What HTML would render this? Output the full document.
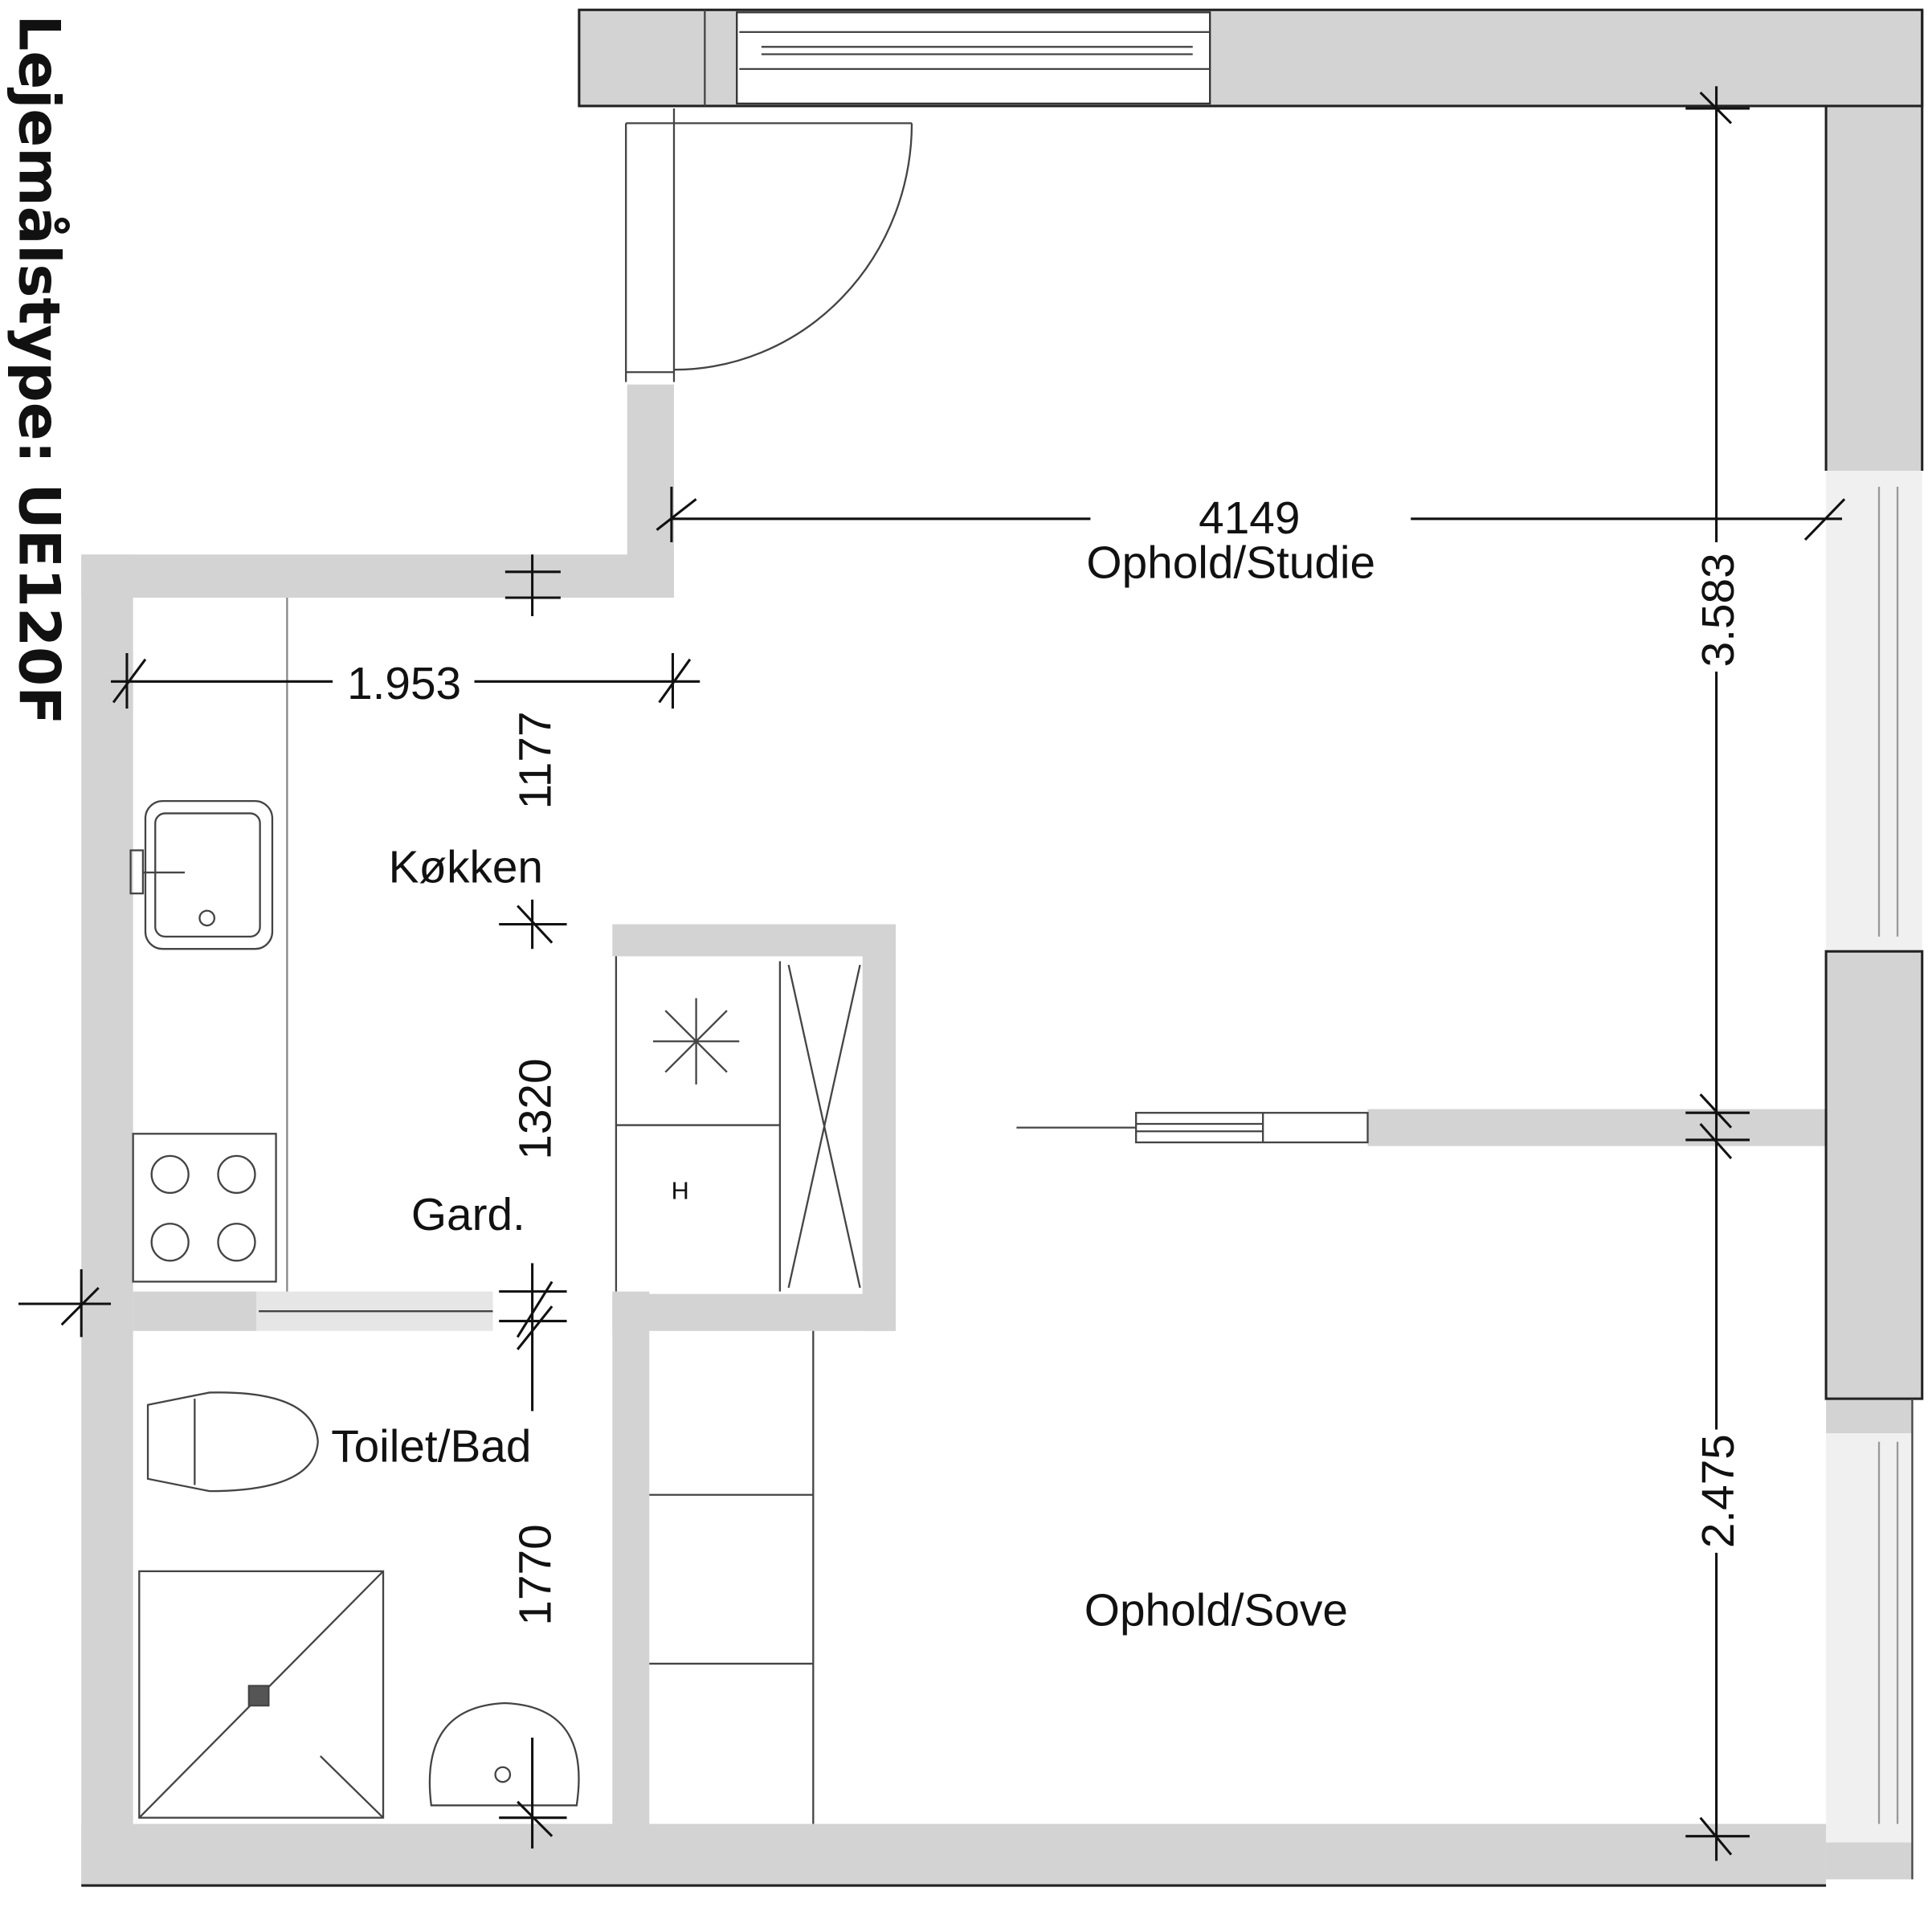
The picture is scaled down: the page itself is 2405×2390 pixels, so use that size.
<!DOCTYPE html>
<html><head><meta charset="utf-8"><style>
html,body{margin:0;padding:0;background:#fff;}
svg{display:block;}
text{font-family:"Liberation Sans",sans-serif;fill:#111;}
</style></head><body>
<svg width="2405" height="2390" viewBox="0 0 1568 1558" preserveAspectRatio="none" xmlns="http://www.w3.org/2000/svg">
<g fill="#d3d3d3" stroke="none">
<rect x="470" y="8" width="1090" height="78"/>
<rect x="1482" y="8" width="78" height="374"/>
<rect x="1482" y="772" width="78" height="363"/>
<rect x="1482" y="1135" width="70" height="28"/>
<rect x="1482" y="1495" width="70" height="30"/>
<rect x="509" y="312" width="38" height="173"/>
<rect x="66" y="450" width="481" height="35"/>
<rect x="66" y="450" width="42" height="1080"/>
<rect x="66" y="1480" width="1416" height="50"/>
<rect x="108" y="1048" width="100" height="32"/>
<rect x="208" y="1048" width="192" height="32" fill="#e6e6e6"/>
<rect x="497" y="1048" width="30" height="440"/>
<rect x="497" y="750" width="230" height="26"/>
<rect x="700" y="750" width="27" height="330"/>
<rect x="497" y="1050" width="230" height="30"/>
<rect x="1110" y="900" width="372" height="30"/>
<rect x="1482" y="382" width="78" height="390" fill="#f0f0f0"/>
<rect x="1482" y="1163" width="70" height="332" fill="#f0f0f0"/>
</g>
<g fill="none" stroke="#222" stroke-width="2">
<rect x="470" y="8" width="1090" height="78"/>
<line x1="1482" y1="86" x2="1482" y2="382"/>
<line x1="1560" y1="8" x2="1560" y2="382"/>
<rect x="1482" y="772" width="78" height="363"/>
<line x1="66" y1="1530" x2="1482" y2="1530"/>
</g>
<g fill="#fff" stroke="#333" stroke-width="1.5">
<rect x="598" y="10" width="384" height="74"/>
</g>
<g fill="none" stroke="#444" stroke-width="1.5">
<line x1="572" y1="8" x2="572" y2="86"/>
<line x1="600" y1="26" x2="982" y2="26"/>
<line x1="618" y1="38" x2="968" y2="38"/>
<line x1="618" y1="44" x2="968" y2="44"/>
<line x1="600" y1="56" x2="982" y2="56"/>
<line x1="508" y1="100" x2="740" y2="100"/>
<line x1="508" y1="100" x2="508" y2="310"/>
<line x1="547" y1="88" x2="547" y2="310"/>
<line x1="508" y1="302" x2="547" y2="302"/>
<path d="M740 100 A193 200 0 0 1 547 300"/>
<line x1="1525" y1="395" x2="1525" y2="760" stroke="#999"/>
<line x1="1540" y1="395" x2="1540" y2="760" stroke="#999"/>
<line x1="1525" y1="1170" x2="1525" y2="1480" stroke="#999"/>
<line x1="1540" y1="1170" x2="1540" y2="1480" stroke="#999"/>
<line x1="1552" y1="1135" x2="1552" y2="1525"/>
<line x1="233" y1="485" x2="233" y2="1048" stroke="#888"/>
<rect x="118" y="650" width="103" height="120" rx="14"/>
<rect x="126" y="660" width="85" height="100" rx="8"/>
<circle cx="168" cy="745" r="6"/>
<rect x="106" y="690" width="10" height="35"/>
<line x1="116" y1="708" x2="150" y2="708"/>
<rect x="108" y="920" width="116" height="120"/>
<circle cx="138" cy="953" r="15"/><circle cx="192" cy="953" r="15"/>
<circle cx="138" cy="1008" r="15"/><circle cx="192" cy="1008" r="15"/>
<line x1="500" y1="776" x2="500" y2="1048"/>
<line x1="633" y1="780" x2="633" y2="1048"/>
<line x1="500" y1="913" x2="633" y2="913"/>
<line x1="640" y1="783" x2="698" y2="1045"/>
<line x1="698" y1="783" x2="640" y2="1045"/>
<line x1="530" y1="845" x2="600" y2="845"/>
<line x1="565" y1="810" x2="565" y2="880"/>
<line x1="540" y1="820" x2="590" y2="870"/>
<line x1="590" y1="820" x2="540" y2="870"/>
<line x1="210" y1="1064" x2="400" y2="1064"/>
<path d="M120 1140 L170 1130 Q255 1128 258 1170 Q255 1210 170 1210 L120 1200 Z"/>
<line x1="158" y1="1135" x2="158" y2="1205"/>
<rect x="113" y="1275" width="198" height="200"/>
<line x1="113" y1="1475" x2="311" y2="1275"/>
<line x1="260" y1="1425" x2="311" y2="1475"/>
<rect x="202" y="1368" width="16" height="16" fill="#555"/>
<path d="M350 1465 Q340 1385 410 1382 Q480 1385 468 1465 Z"/>
<circle cx="408" cy="1440" r="6"/>
<line x1="660" y1="1080" x2="660" y2="1480"/>
<line x1="527" y1="1213" x2="660" y2="1213"/>
<line x1="527" y1="1350" x2="660" y2="1350"/>
<line x1="825" y1="915" x2="922" y2="915"/>
<rect x="922" y="903" width="188" height="24"/>
<line x1="922" y1="912" x2="1025" y2="912"/>
<line x1="922" y1="918" x2="1025" y2="918"/>
<line x1="1025" y1="903" x2="1025" y2="927"/>
</g>
<g fill="none" stroke="#111" stroke-width="2">
<line x1="545" y1="421" x2="885" y2="421"/>
<line x1="1145" y1="421" x2="1495" y2="421"/>
<line x1="545" y1="395" x2="545" y2="440"/>
<line x1="533" y1="430" x2="565" y2="405"/>
<line x1="1465" y1="438" x2="1497" y2="405"/>
<line x1="1393" y1="70" x2="1393" y2="440"/>
<line x1="1393" y1="545" x2="1393" y2="1160"/>
<line x1="1393" y1="1260" x2="1393" y2="1510"/>
<line x1="1368" y1="88" x2="1420" y2="88"/><line x1="1380" y1="75" x2="1405" y2="100"/>
<line x1="1368" y1="903" x2="1420" y2="903"/><line x1="1380" y1="888" x2="1405" y2="915"/>
<line x1="1368" y1="925" x2="1420" y2="925"/><line x1="1380" y1="912" x2="1405" y2="940"/>
<line x1="1368" y1="1490" x2="1420" y2="1490"/><line x1="1380" y1="1475" x2="1405" y2="1505"/>
<line x1="90" y1="553" x2="270" y2="553"/>
<line x1="385" y1="553" x2="568" y2="553"/>
<line x1="103" y1="530" x2="103" y2="575"/><line x1="92" y1="570" x2="118" y2="535"/>
<line x1="546" y1="530" x2="546" y2="575"/><line x1="535" y1="570" x2="560" y2="535"/>
<line x1="432" y1="450" x2="432" y2="500"/>
<line x1="410" y1="464" x2="455" y2="464"/><line x1="410" y1="485" x2="455" y2="485"/>
<line x1="432" y1="730" x2="432" y2="770"/><line x1="405" y1="750" x2="460" y2="750"/><line x1="420" y1="735" x2="448" y2="765"/>
<line x1="432" y1="1025" x2="432" y2="1145"/>
<line x1="405" y1="1048" x2="460" y2="1048"/><line x1="405" y1="1072" x2="460" y2="1072"/>
<line x1="420" y1="1085" x2="448" y2="1040"/><line x1="420" y1="1095" x2="448" y2="1060"/>
<line x1="432" y1="1410" x2="432" y2="1500"/><line x1="405" y1="1475" x2="460" y2="1475"/><line x1="420" y1="1462" x2="448" y2="1490"/>
<line x1="15" y1="1058" x2="90" y2="1058"/><line x1="66" y1="1030" x2="66" y2="1085"/><line x1="50" y1="1075" x2="80" y2="1045"/>
</g>
<g font-size="37">
<text x="1014" y="433" text-anchor="middle">4149</text>
<text x="999" y="469" text-anchor="middle">Ophold/Studie</text>
<text x="328" y="567" text-anchor="middle">1.953</text>
<text x="378" y="716" text-anchor="middle">Køkken</text>
<text x="380" y="998" text-anchor="middle">Gard.</text>
<text x="350" y="1186" text-anchor="middle">Toilet/Bad</text>
<text x="987" y="1319" text-anchor="middle">Ophold/Sove</text>
<text transform="translate(447,617) rotate(-90)" text-anchor="middle">1177</text>
<text transform="translate(447,900) rotate(-90)" text-anchor="middle">1320</text>
<text transform="translate(447,1278) rotate(-90)" text-anchor="middle">1770</text>
<text transform="translate(1407,495) rotate(-90)" text-anchor="middle">3.583</text>
<text transform="translate(1407,1210) rotate(-90)" text-anchor="middle">2.475</text>
<text x="552" y="973" font-size="20" text-anchor="middle">H</text>
</g>
<text transform="translate(16,12) rotate(90)" font-size="46" font-weight="bold" style="font-family:'DejaVu Sans','Liberation Sans',sans-serif">Lejemålstype: UE120F</text>
</svg>
</body></html>
